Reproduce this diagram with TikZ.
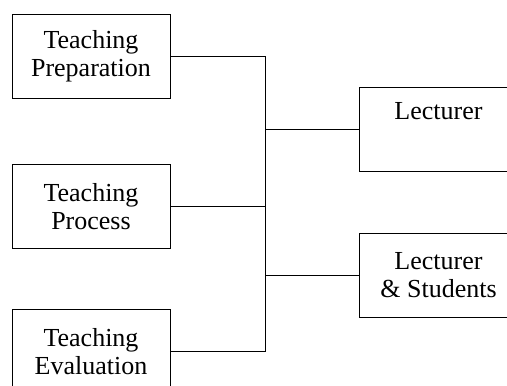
\documentclass[tikz,border=0pt]{standalone}
\usepackage{fontspec}
\setmainfont{Liberation Serif}
\usetikzlibrary{positioning}
\tikzset{
    Box/.style = {
        draw, line width=1pt,
        minimum width=158pt, minimum height=84pt,
        inner sep=0pt, align=center,
        font=\fontsize{26}{28}\selectfont
    },
    Link/.style = {line width=1pt}
}

\begin{document}
\begin{tikzpicture}[x=1pt, y=1pt]
    \useasboundingbox (0,0) rectangle (507,-386);
    \clip (0,0) rectangle (507,-386);
    \node[Box] (prep) at (91,-56.5) {Teaching\\Preparation};
    \node[Box, below=65pt of prep] (proc) {Teaching\\Process};
    \node[Box, below=60pt of proc] (eval) {Teaching\\Evaluation};
    \node[Box] (lect) at (438.5,-129.5) {Lecturer\\\strut};
    \node[Box, below=61pt of lect] (both) {Lecturer\\\&~Students};
    \coordinate (busT) at ([xshift=95pt]prep.east);
    \coordinate (busB) at ([xshift=95pt]eval.east);
    \draw [Link] (prep.east) -- (busT) -- (busB) -- (eval.east);
    \draw [Link] (proc.east) -- (proc.east -| busT);
    \draw [Link] (lect.west) -- (lect.west -| busT);
    \draw [Link] (both.west) -- (both.west -| busT);
\end{tikzpicture}
\end{document}
